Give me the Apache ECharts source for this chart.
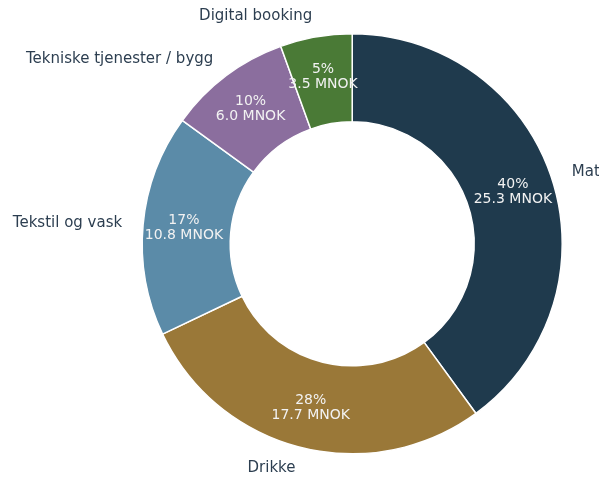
<!DOCTYPE html>
<html>
<head>
<meta charset="utf-8">
<script src="https://cdn.jsdelivr.net/npm/echarts@6/dist/echarts.min.js"></script>
<style>
    html, body { margin: 0; padding: 0; background: #fff; }
    #chart { width: 599px; height: 479px; }
</style>
</head>
<body>
<div id="chart"></div>
<script>
    // kategorier og verdier (MNOK)
    let categories = ['Mat', 'Drikke', 'Tekstil og vask', 'Tekniske tjenester / bygg', 'Digital booking'];
    let values = [25.3, 17.7, 10.8, 6.0, 3.5];
    let percents = [40, 28, 17, 10, 5];
    let colors = ['#1f3a4d', '#9a7838', '#5b8ba8', '#8b6e9e', '#4a7a36'];

    let myChart = echarts.init(document.getElementById('chart'));

    let sliceData = [];
    let nameData = [];
    for (let i = 0; i < categories.length; i++) {
        sliceData.push({
            name: categories[i],
            value: values[i],
            itemStyle: { color: colors[i] },
            label: { formatter: percents[i] + '%\n' + values[i].toFixed(1) + ' MNOK' }
        });
        nameData.push({ name: categories[i], value: values[i] });
    }

    let option = {
        animation: false,
        series: [
            {
                type: 'pie',
                center: ['58.8%', '50.9%'],
                radius: [122, 210],
                startAngle: 90,
                clockwise: true,
                avoidLabelOverlap: false,
                silent: true,
                itemStyle: {
                    borderColor: '#fff',
                    borderWidth: 1.5
                },
                label: {
                    show: true,
                    position: 'inside',
                    color: '#f2f2f2',
                    fontFamily: 'DejaVu Sans',
                    fontSize: 14,
                    lineHeight: 15
                },
                labelLine: { show: false },
                data: sliceData
            },
            {
                // bare navnene utenfor ringen
                type: 'pie',
                center: ['58.8%', '50.9%'],
                radius: [122, 210],
                startAngle: 90,
                clockwise: true,
                avoidLabelOverlap: false,
                silent: true,
                itemStyle: { color: 'transparent', borderWidth: 0 },
                label: {
                    show: true,
                    position: 'outside',
                    formatter: '{b}',
                    color: '#2c3e50',
                    fontFamily: 'DejaVu Sans',
                    fontSize: 15,
                    distanceToLabelLine: 0
                },
                labelLine: { show: false, length: 21, length2: 0 },
                data: nameData
            }
        ]
    };

    myChart.setOption(option);
</script>
</body>
</html>
